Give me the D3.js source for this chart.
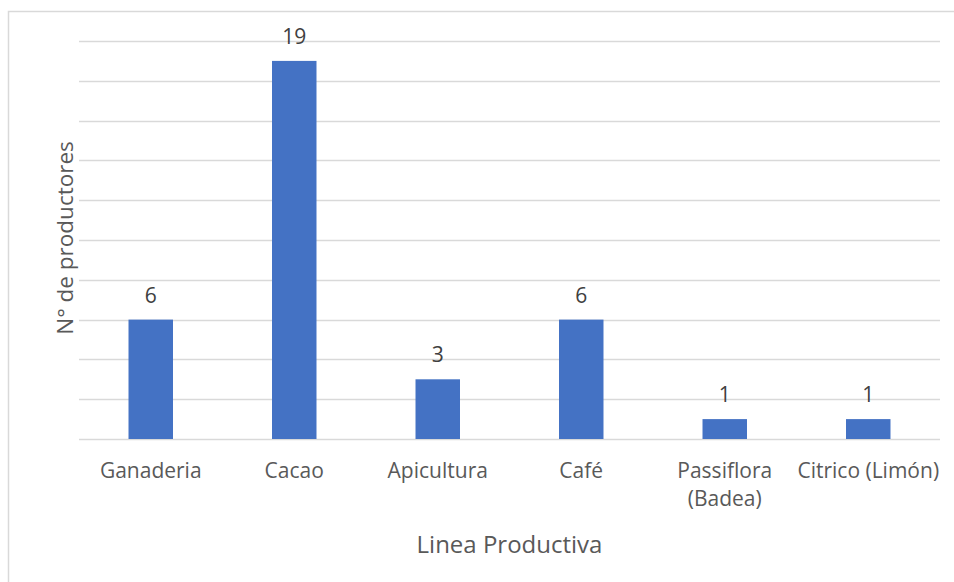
<!DOCTYPE html>
<html>
<head>
<meta charset="utf-8">
<script src="https://cdn.jsdelivr.net/npm/d3@7"></script>
<style>
  body { margin: 0; background: #fff; }
  text { font-family: "Open Sans", "Noto Sans", sans-serif; }
</style>
</head>
<body>
<div id="chart"></div>
<script>
// chart data
const categories = ["Ganaderia", "Cacao", "Apicultura", "Café", "Passiflora (Badea)", "Citrico (Limón)"];
const productores = [6, 19, 3, 6, 1, 1];
const yTicks = [0, 2, 4, 6, 8, 10, 12, 14, 16, 18, 20];

const width = 954;
const height = 582;
const margin = {left: 79, right: 14, top: 41, bottom: 143};

const svg = d3.select("#chart")
  .append("svg")
  .attr("width", width)
  .attr("height", height);

// outer chart border (runs off the right and bottom edges)
svg.append("rect")
  .attr("x", 8.5).attr("y", 11.5)
  .attr("width", 960).attr("height", 600)
  .attr("fill", "none")
  .attr("stroke", "#d9d9d9")
  .attr("stroke-width", 1.5);

const x = d3.scaleBand()
  .domain(categories)
  .range([margin.left, width - margin.right])
  .padding(0);

const y = d3.scaleLinear()
  .domain([0, 20])
  .range([height - margin.bottom, margin.top]);

// gridlines
svg.append("g")
  .selectAll("line")
  .data(yTicks)
  .join("line")
  .attr("x1", margin.left)
  .attr("x2", width - margin.right)
  .attr("y1", d => Math.round(y(d)) + 0.5)
  .attr("y2", d => Math.round(y(d)) + 0.5)
  .attr("stroke", "#d9d9d9")
  .attr("stroke-width", 1.3);

// bars
const barW = x.bandwidth() * 0.31;
svg.append("g")
  .selectAll("rect")
  .data(productores)
  .join("rect")
  .attr("x", (d, i) => x(categories[i]) + (x.bandwidth() - barW) / 2)
  .attr("y", d => y(d))
  .attr("width", barW)
  .attr("height", d => y(0) - y(d))
  .attr("fill", "#4472c4");

// value labels
svg.append("g")
  .selectAll("text")
  .data(productores)
  .join("text")
  .attr("x", (d, i) => x(categories[i]) + x.bandwidth() / 2)
  .attr("y", d => y(d) - 17)
  .attr("text-anchor", "middle")
  .attr("font-size", 21)
  .attr("fill", "#404040")
  .text(d => d);

// category labels, wrapped by hand where the original wraps
const wrap = {"Passiflora (Badea)": ["Passiflora", "(Badea)"]};
const xLab = svg.append("g")
  .selectAll("text")
  .data(categories)
  .join("text")
  .attr("x", d => x(d) + x.bandwidth() / 2)
  .attr("y", 478)
  .attr("text-anchor", "middle")
  .attr("font-size", 21)
  .attr("fill", "#595959");
xLab.each(function(d) {
  const lines = wrap[d] || [d];
  d3.select(this).selectAll("tspan")
    .data(lines)
    .join("tspan")
    .attr("x", x(d) + x.bandwidth() / 2)
    .attr("dy", (l, i) => i === 0 ? 0 : 28)
    .text(l => l);
});

// axis titles
svg.append("text")
  .attr("x", (margin.left + width - margin.right) / 2)
  .attr("y", 553)
  .attr("text-anchor", "middle")
  .attr("font-size", 24)
  .attr("fill", "#595959")
  .text("Linea Productiva");

svg.append("text")
  .attr("transform", `translate(73, ${238}) rotate(-90)`)
  .attr("text-anchor", "middle")
  .attr("font-size", 22.5)
  .attr("fill", "#595959")
  .text("N° de productores");
</script>
</body>
</html>
